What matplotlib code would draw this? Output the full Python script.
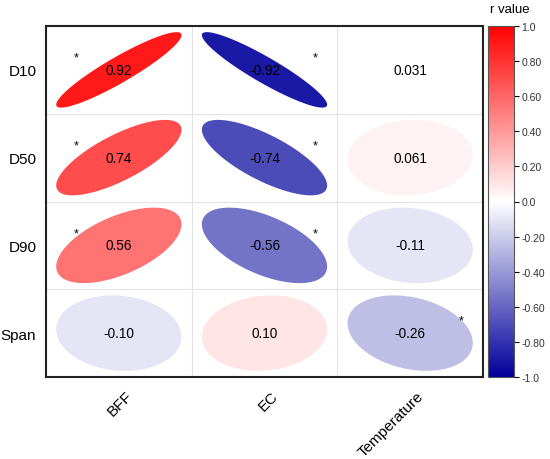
import numpy as np
import matplotlib
matplotlib.use("Agg")
import matplotlib.pyplot as plt
from matplotlib.colors import LinearSegmentedColormap, Normalize
from matplotlib.patches import Polygon
from matplotlib.cm import ScalarMappable
from matplotlib.transforms import ScaledTranslation

plt.rcParams['font.family'] = ['Liberation Sans', 'DejaVu Sans']

rows = ["D10", "D50", "D90", "Span"]
cols = ["BFF", "EC", "Temperature"]
r_values = [
    [0.92, -0.92, 0.031],
    [0.74, -0.74, 0.061],
    [0.56, -0.56, -0.11],
    [-0.10, 0.10, -0.26],
]
r_labels = [
    ["0.92", "-0.92", "0.031"],
    ["0.74", "-0.74", "0.061"],
    ["0.56", "-0.56", "-0.11"],
    ["-0.10", "0.10", "-0.26"],
]
significant = [
    [True, True, False],
    [True, True, False],
    [True, True, False],
    [False, False, True],
]
cbar_ticks = [1.0, 0.8, 0.6, 0.4, 0.2, 0.0, -0.2, -0.4, -0.6, -0.8, -1.0]
cbar_ticklabels = ["1.0", "0.80", "0.60", "0.40", "0.20", "0.0",
                   "-0.20", "-0.40", "-0.60", "-0.80", "-1.0"]

cmap = LinearSegmentedColormap.from_list("bwr_custom", ["#00009B", "#FFFFFF", "#FF0000"], N=1024)
norm = Normalize(-1, 1)
color_step = 0.05  # colour levels of the scale

fig = plt.figure(figsize=(5.5, 4.6), dpi=100)
ax = fig.add_axes([46/550, 82/460, 437/550, 351/460])
ax.set_xlim(0, len(cols))
ax.set_ylim(len(rows), 0)

for i in range(1, len(cols)):
    ax.axvline(i, color="#e3e3e3", lw=0.8, zorder=0)
for j in range(1, len(rows)):
    ax.axhline(j, color="#e3e3e3", lw=0.8, zorder=0)

t = np.linspace(0, 2*np.pi, 200)
scale = 0.43
for i, rname in enumerate(rows):
    for j, cname in enumerate(cols):
        r = r_values[i][j]
        d = np.arccos(r)
        ex = np.cos(t + d/2)
        ey = np.cos(t - d/2)
        cx, cy = j + 0.5, i + 0.5
        pts = np.column_stack([cx + scale*ex, cy - scale*ey])
        level = np.trunc(r / color_step) * color_step
        ax.add_patch(Polygon(pts, closed=True, facecolor=cmap(norm(level)),
                             edgecolor="none", zorder=1))
        ax.text(cx, cy, r_labels[i][j], ha="center", va="center",
                fontsize=9.8, color="black", zorder=3)
        if significant[i][j]:
            dx = -0.29 if r > 0 else 0.35
            ax.text(cx + dx, cy - 0.14, "*", ha="center", va="center",
                    fontsize=9, color="black", zorder=3)

ax.set_xticks([j + 0.5 for j in range(len(cols))])
ax.set_yticks([i + 0.5 for i in range(len(rows))])
ax.set_yticklabels(rows, fontsize=11)
ax.set_xticklabels(cols, fontsize=11, rotation=45, ha="right",
                   rotation_mode="anchor")
ax.tick_params(length=0)
ax.tick_params(axis="y", pad=7)
ax.tick_params(axis="x", pad=8)
offset = ScaledTranslation(6/100, 0, fig.dpi_scale_trans)
for lab in ax.get_xticklabels():
    lab.set_transform(lab.get_transform() + offset)
for sp in ax.spines.values():
    sp.set_linewidth(1.5)
    sp.set_color("#222222")

cax = fig.add_axes([488/550, 82/460, 26/550, 351/460])
sm = ScalarMappable(norm=norm, cmap=cmap)
cb = fig.colorbar(sm, cax=cax, ticks=cbar_ticks)
cb.set_ticklabels(cbar_ticklabels)
cb.ax.tick_params(labelsize=7.5, length=3.5, width=0.8, pad=2, labelcolor="#333333")
cb.outline.set_edgecolor("#555555")
cb.outline.set_linewidth(0.8)
fig.text(510/550, 1 - 10/460, "r value", ha="center", va="center", fontsize=9.5)

fig.savefig("out.png", dpi=100)
